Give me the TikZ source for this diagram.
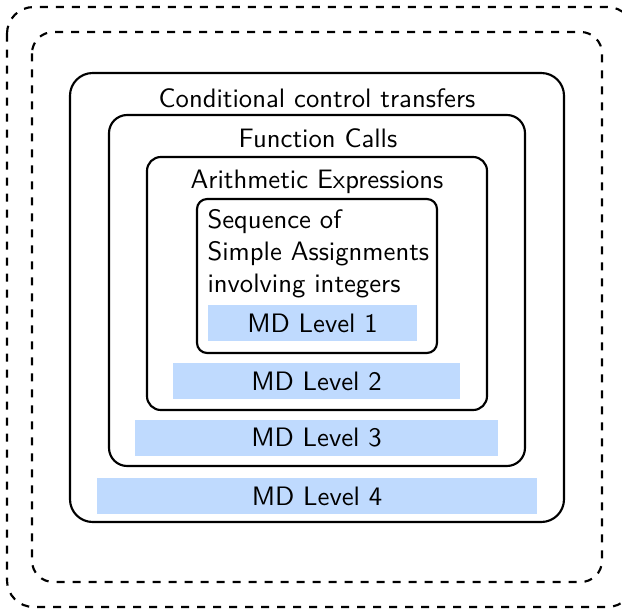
\documentclass[tikz,border=0pt]{standalone}
\usepackage{tikz}
\usetikzlibrary{positioning}
\definecolor{mdblue}{HTML}{BFDAFE}

\begin{document}
\begin{tikzpicture}[
  x=0.375pt,y=-0.375pt,
  font=\sffamily,
  scopebox/.style={draw,thick},
  outerbox/.style={draw,thick,dashed},
  mdbar/.style={fill=mdblue,minimum height=13.5pt,inner sep=0pt},
  lvltitle/.style={inner sep=0pt}
]
\useasboundingbox (0,0) rectangle (622,608);

% Dashed outer frames
\draw[outerbox,rounded corners=10pt] (7,7) rectangle (634,607);
\draw[outerbox,rounded corners=8pt] (32,32) rectangle (602,582);

% Nested scopes
\draw[scopebox,rounded corners=8.5pt] (70,73) rectangle (564,522);
\draw[scopebox,rounded corners=6.8pt] (109,115) rectangle (525,466);
\draw[scopebox,rounded corners=5.2pt] (147,157) rectangle (487,410);
\draw[scopebox,rounded corners=3.8pt] (197,199) rectangle (437,353);

% Titles
\node[lvltitle] (cond) at (317,98) {Conditional control transfers};
\node[lvltitle] (func) at (318,138) {Function Calls};
\node[lvltitle] (arith) at (317,182) {Arithmetic Expressions};
\node[lvltitle,anchor=west,align=left] (seq) at (207,254)
  {Sequence of\\Simple Assignments\\involving integers};

% MD levels
\node[mdbar,minimum width=78.4pt] (md1) at (312.5,323) {MD Level 1};
\node[mdbar,minimum width=107.6pt] (md2) at (316.5,381) {MD Level 2};
\node[mdbar,minimum width=136.1pt] (md3) at (316.5,437.5) {MD Level 3};
\node[mdbar,minimum width=165pt] (md4) at (317,496) {MD Level 4};

\end{tikzpicture}
\end{document}
